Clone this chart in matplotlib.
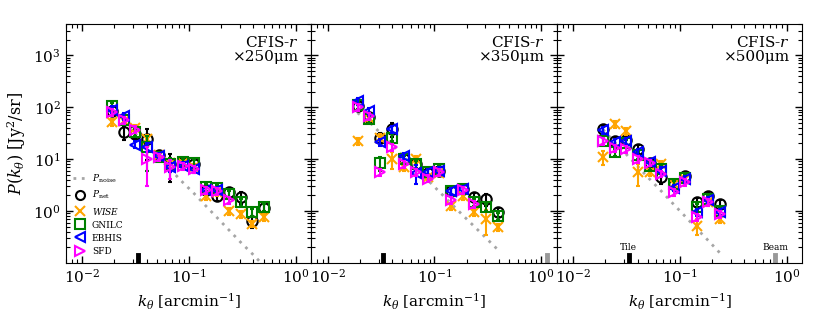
import numpy as np
import matplotlib
matplotlib.use('Agg')
import matplotlib.pyplot as plt
from matplotlib.lines import Line2D

plt.rcParams['font.family'] = 'DejaVu Serif'
plt.rcParams['mathtext.fontset'] = 'dejavuserif'

nan = np.nan

# wavenumber bins [arcmin^-1]
k_bins = [0.019, 0.0245, 0.031, 0.040, 0.052, 0.067, 0.087, 0.111, 0.143, 0.184, 0.237, 0.305, 0.392, 0.50]

# CFIS-r x 250um
noise_250 = [91, 53, 32, 19, 10.8, 6.3, 3.6, 2.2, 1.27, 0.74, 0.43, 0.25, 0.15, 0.089]
pnet_250 = [84, 33, 31, 24, 12, 8, 8.8, 8, 2.5, 1.95, 2.3, 1.85, 0.64, 1.15]
wise_250 = [51, 55, 39, 24, 12, 8.5, 8.5, 7, 1.95, 2.3, 1.0, 0.87, 0.57, 0.77]
gnilc_250 = [105, 57, 33, 17, 11, 8, 8.8, 8.5, 2.9, 2.8, 2.1, 1.5, 0.95, 1.2]
ebhis_250 = [90, 67, 19, 17, 11.5, 7, 7.5, 6.4, 2.5, 2.5, nan, nan, nan, nan]
sfd_250 = [80, 56, 37, 10, 11, 7, 7.4, 6.4, 2.5, 2.4, 1.6, nan, nan, nan]
# relative (1 sigma) errors
pnet_250_err = [0.2, 0.3, 0.2, 0.6, 0.2, 0.55, 0.2, 0.2, 0.2, 0.2, 0.2, 0.25, 0.25, 0.2]
wise_250_err = [0.15, 0.15, 0.15, 0.2, 0.15, 0.2, 0.15, 0.15, 0.15, 0.15, 0.15, 0.15, 0.15, 0.15]
gnilc_250_err = [0.15, 0.15, 0.15, 0.65, 0.15, 0.3, 0.15, 0.15, 0.15, 0.15, 0.15, 0.15, 0.15, 0.15]
ebhis_250_err = [0.15, 0.15, 0.15, 0.2, 0.15, 0.2, 0.15, 0.15, 0.15, 0.15, 0.15, 0.15, 0.15, 0.15]
sfd_250_err = [0.15, 0.15, 0.15, 0.7, 0.15, 0.4, 0.15, 0.15, 0.15, 0.15, 0.15, 0.15, 0.15, 0.15]

# CFIS-r x 350um
noise_350 = [78, 52, 32, 19, 11, 6.6, 3.9, 2.35, 1.4, 0.83, 0.5, 0.3, 0.18]
pnet_350 = [105, 65, 26, 38, 10, 8, 5.5, 6, 2.4, 2.6, 1.85, 1.7, 0.96]
wise_350 = [22, 62, 26, 10, 7, 10, 4.5, 5.5, 1.25, 1.95, 0.95, 0.7, 0.49]
gnilc_350 = [110, 58, 8.4, 26, 10, 8, 5.6, 6.4, 2.4, 2.6, 1.5, 1.2, 0.8]
ebhis_350 = [130, 85, 21, 38, 11.4, 5.5, 5.6, 6.0, 2.4, 2.6, nan, nan, nan]
sfd_350 = [100, 67, 5.6, 17, 8, 5.6, 4.2, 5.6, 1.6, 2.5, 1.36, nan, nan]
pnet_350_err = [0.2, 0.2, 0.2, 0.3, 0.2, 0.2, 0.2, 0.2, 0.2, 0.2, 0.2, 0.25, 0.2]
wise_350_err = [0.15, 0.15, 0.15, 0.35, 0.15, 0.15, 0.15, 0.15, 0.15, 0.15, 0.15, 0.5, 0.15]
gnilc_350_err = [0.15, 0.15, 0.3, 0.15, 0.15, 0.15, 0.15, 0.15, 0.15, 0.15, 0.15, 0.15, 0.15]
ebhis_350_err = [0.15, 0.15, 0.15, 0.15, 0.15, 0.4, 0.15, 0.15, 0.15, 0.15, 0.15, 0.15, 0.15]
sfd_350_err = [0.15, 0.15, 0.15, 0.15, 0.15, 0.15, 0.15, 0.15, 0.15, 0.15, 0.15, 0.15, 0.15]

# CFIS-r x 500um
noise_500 = [37, 21, 12.7, 7.3, 4.1, 2.4, 1.35, 0.8, 0.46, 0.27, 0.155]
pnet_500 = [38, 22, 23, 15.5, 8.5, 4.5, 3.3, 4.7, 1.5, 1.95, 1.36]
wise_500 = [11, 47, 35, 5.6, 5.6, 8, 3.3, 4.2, 0.52, 1.5, 0.7]
gnilc_500 = [22, 13.5, 20, 12, 7.4, 6.4, 3.3, 4.4, 1.2, 1.7, 1.0]
ebhis_500 = [36, 21, 22, 13.5, 8.8, 6.0, 2.8, 4.1, 0.96, 1.6, 0.95]
sfd_500 = [22, 16, 15.5, 10, 8.5, 5.2, 2.3, 3.6, 0.77, 1.5, 0.88]
pnet_500_err = [0.2, 0.2, 0.2, 0.2, 0.2, 0.25, 0.2, 0.2, 0.2, 0.2, 0.2]
wise_500_err = [0.3, 0.15, 0.15, 0.45, 0.15, 0.15, 0.15, 0.15, 0.35, 0.15, 0.15]
gnilc_500_err = [0.15, 0.15, 0.15, 0.15, 0.15, 0.15, 0.15, 0.15, 0.15, 0.15, 0.15]
ebhis_500_err = [0.15, 0.15, 0.15, 0.15, 0.15, 0.15, 0.15, 0.15, 0.15, 0.15, 0.15]
sfd_500_err = [0.15, 0.15, 0.15, 0.15, 0.15, 0.15, 0.15, 0.15, 0.15, 0.15, 0.15]

panel_titles = ['CFIS-$r$\n×250μm', 'CFIS-$r$\n×350μm', 'CFIS-$r$\n×500μm']
tile_k = 0.033
beam_k = [1.6, 1.13, 0.78]

series_names = ['$P_{\\rm net}$', '$WISE$', 'GNILC', 'EBHIS', 'SFD']
series_style = [('o', 'black'), ('x', 'orange'), ('s', 'green'), ('<', 'blue'), ('>', 'magenta')]

panels = [
    (noise_250, [pnet_250, wise_250, gnilc_250, ebhis_250, sfd_250],
     [pnet_250_err, wise_250_err, gnilc_250_err, ebhis_250_err, sfd_250_err]),
    (noise_350, [pnet_350, wise_350, gnilc_350, ebhis_350, sfd_350],
     [pnet_350_err, wise_350_err, gnilc_350_err, ebhis_350_err, sfd_350_err]),
    (noise_500, [pnet_500, wise_500, gnilc_500, ebhis_500, sfd_500],
     [pnet_500_err, wise_500_err, gnilc_500_err, ebhis_500_err, sfd_500_err]),
]

fig, axes = plt.subplots(1, 3, figsize=(8.22, 3.16), dpi=100, sharey=True)
fig.subplots_adjust(left=0.080, right=0.976, bottom=0.168, top=0.924, wspace=0)

for i, ax in enumerate(axes):
    noise, vals, errs = panels[i]
    n = len(noise)
    k = np.array(k_bins[:n])
    ax.plot(k, noise, ls=(0, (1, 2)), color='0.65', lw=2, zorder=1)
    for j in range(5):
        y = np.array(vals[j], dtype=float)
        e = np.array(errs[j]) * y
        m, c = series_style[j]
        ax.errorbar(k, y, yerr=e, fmt=m, mfc='none', mec=c, ecolor=c, ms=7.5,
                    mew=1.5, elinewidth=1.5, capsize=1.5, zorder=2 + j)
    ax.axvline(tile_k, ymin=0, ymax=0.035, color='black', lw=3.5)
    ax.axvline(beam_k[i], ymin=0, ymax=0.035, color='0.6', lw=3.5)
    ax.set_xscale('log')
    ax.set_yscale('log')
    ax.set_xlim(0.007, 1.4)
    ax.set_ylim(0.1, 4000)
    ax.tick_params(which='both', direction='in', top=True, right=True, labelsize=11)
    ax.tick_params(which='major', length=5, width=1)
    ax.tick_params(which='minor', length=3, width=0.8)
    ax.set_xlabel(r'$k_\theta$ [arcmin$^{-1}$]', fontsize=11)
    ax.text(0.95, 0.955, panel_titles[i], transform=ax.transAxes, ha='right', va='top',
            fontsize=11, linespacing=1.0)
    ax.set_yticks([1, 10, 100, 1000])

axes[2].text(tile_k, 0.16, 'Tile', ha='center', va='bottom', fontsize=6.5)
axes[2].text(beam_k[2], 0.16, 'Beam', ha='center', va='bottom', fontsize=6.5)

axes[0].set_ylabel(r'$P(k_\theta)$ [Jy$^2$/sr]', fontsize=11.5)

handles = [Line2D([], [], ls=(0, (1, 2)), color='0.65', lw=2)]
for j in range(5):
    m, c = series_style[j]
    handles.append(Line2D([], [], ls='none', marker=m, mfc='none', mec=c, ms=6.5, mew=1.5))
axes[0].legend(handles, ['$P_{\\rm noise}$'] + series_names, loc='lower left', frameon=False,
               fontsize=6.5, handlelength=1.5, labelspacing=0.45, borderaxespad=0.4,
               handletextpad=0.6)

fig.savefig('out.png', dpi=100)
